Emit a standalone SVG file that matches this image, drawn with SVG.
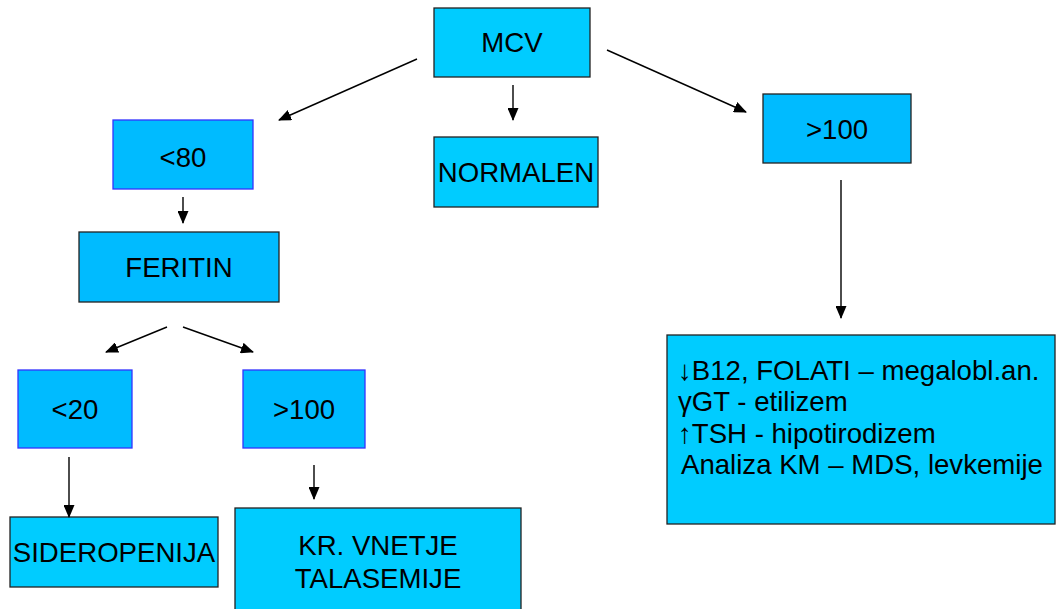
<svg xmlns="http://www.w3.org/2000/svg" width="1056" height="609" viewBox="0 0 1056 609">
<style>
  .a { fill: #00CCFF; stroke: #222222; stroke-width: 1.3; }
  .b { fill: #00BBFF; stroke: #222222; stroke-width: 1.3; }
  .c { fill: #00BBFF; stroke: #3333FF; stroke-width: 1.3; }
  text { font-family: "Liberation Sans", Arial, sans-serif; font-size: 27.6px; fill: #000000; }
  .m { text-anchor: middle; }
  .conn line { stroke: #000000; stroke-width: 1.4; marker-end: url(#ah); }
</style>
<defs>
  <marker id="ah" markerUnits="userSpaceOnUse" markerWidth="13" markerHeight="11" refX="12" refY="5.5" orient="auto">
    <path d="M0,0 L13,5.5 L0,11 Z" fill="#000000"/>
  </marker>
</defs>
<rect width="1056" height="609" fill="#FFFFFF"/>
<g id="mcv"><rect class="a" x="434" y="8" width="156" height="69"/><text class="m" x="512" y="52">MCV</text></g>
<g id="lt80"><rect class="c" x="113" y="120" width="140" height="69"/><text class="m" x="183" y="167">&lt;80</text></g>
<g id="normalen"><rect class="a" x="434" y="137" width="164" height="70"/><text class="m" x="516" y="182">NORMALEN</text></g>
<g id="gt100a"><rect class="b" x="763" y="94" width="148" height="69"/><text class="m" x="837" y="139">&gt;100</text></g>
<g id="feritin"><rect class="b" x="79" y="232" width="200" height="70"/><text class="m" x="179" y="277">FERITIN</text></g>
<g id="lt20"><rect class="c" x="18" y="370" width="114" height="78"/><text class="m" x="75" y="419">&lt;20</text></g>
<g id="gt100b"><rect class="c" x="243" y="370" width="122" height="78"/><text class="m" x="304" y="419">&gt;100</text></g>
<g id="sideropenija"><rect class="a" x="10" y="517" width="208" height="70"/><text class="m" x="114" y="562">SIDEROPENIJA</text></g>
<g id="krvnetje"><rect class="a" x="235" y="508" width="286" height="110"/><text class="m" x="378" y="555">KR. VNETJE</text><text class="m" x="378" y="588">TALASEMIJE</text></g>
<g id="makro"><rect class="a" x="667" y="335" width="388" height="189"/>
  <text x="678" y="380">↓B12, FOLATI – megalobl.an.</text>
  <text x="678" y="411">γGT - etilizem</text>
  <text x="678" y="443">↑TSH - hipotirodizem</text>
  <text x="681" y="474">Analiza KM – MDS, levkemije</text>
</g>
<g id="connectors" class="conn">
  <line x1="417" y1="59" x2="279" y2="120"/>
  <line x1="513" y1="85" x2="513" y2="120"/>
  <line x1="607" y1="50" x2="746" y2="112"/>
  <line x1="183" y1="197" x2="183" y2="223"/>
  <line x1="841" y1="180" x2="841" y2="318"/>
  <line x1="167" y1="327" x2="106" y2="352"/>
  <line x1="183" y1="327" x2="253" y2="352"/>
  <line x1="69" y1="457" x2="69" y2="517"/>
  <line x1="314" y1="465" x2="314" y2="499"/>
</g>
</svg>
